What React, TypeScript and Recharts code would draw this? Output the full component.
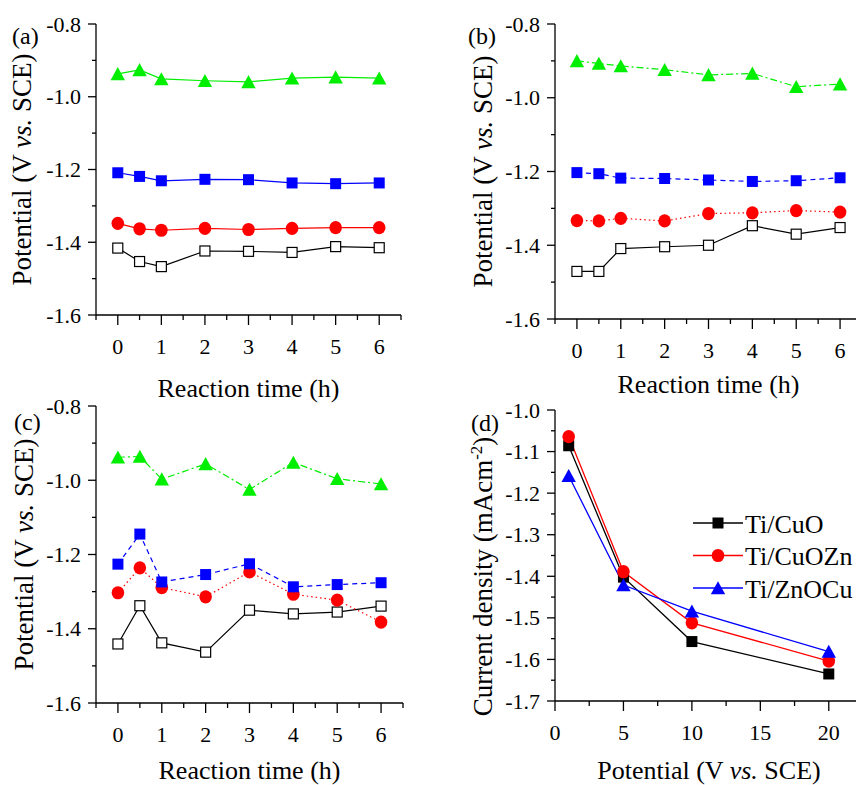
import React from 'react';
import { LineChart, Line, XAxis, YAxis, Label, Legend } from 'recharts';

const FONT = '"Liberation Serif", "Times New Roman", Times, serif';

// ---------- shared axes (panels a-c) ----------
const timeH = [0, 0.5, 1, 2, 3, 4, 5, 6];
const timeMajorTicks = [0, 1, 2, 3, 4, 5, 6];
const timeMinorTicks = [-0.5, 0.5, 1.5, 2.5, 3.5, 4.5, 5.5, 6.5];
const potMajorTicks = [-1.6, -1.4, -1.2, -1.0, -0.8];
const potMinorTicks = [-1.5, -1.3, -1.1, -0.9];

// ---------- panel (a) ----------
const aOpenSquare = [-1.416, -1.453, -1.467, -1.424, -1.425, -1.428, -1.412, -1.415];
const aRedCircle = [-1.348, -1.363, -1.367, -1.362, -1.365, -1.362, -1.36, -1.36];
const aBlueSquare = [-1.209, -1.219, -1.231, -1.227, -1.228, -1.237, -1.239, -1.237];
const aGreenTriangle = [-0.937, -0.926, -0.951, -0.956, -0.959, -0.949, -0.946, -0.949];

// ---------- panel (b) ----------
const bOpenSquare = [-1.471, -1.471, -1.409, -1.404, -1.4, -1.347, -1.37, -1.352];
const bRedCircle = [-1.333, -1.334, -1.327, -1.334, -1.314, -1.312, -1.306, -1.31];
const bBlueSquare = [-1.203, -1.206, -1.218, -1.219, -1.223, -1.227, -1.225, -1.217];
const bGreenTriangle = [-0.9, -0.907, -0.914, -0.924, -0.938, -0.934, -0.97, -0.963];

// ---------- panel (c) ----------
const cOpenSquare = [-1.441, -1.338, -1.438, -1.463, -1.35, -1.36, -1.355, -1.339];
const cRedCircle = [-1.303, -1.236, -1.289, -1.314, -1.247, -1.307, -1.323, -1.382];
const cBlueSquare = [-1.226, -1.145, -1.274, -1.254, -1.225, -1.287, -1.281, -1.276];
const cGreenTriangle = [-0.938, -0.936, -0.997, -0.956, -1.025, -0.952, -0.996, -1.01];

// ---------- panel (d) ----------
const dPotential = [1, 5, 10, 20];
const dTiCuO = [-1.086, -1.402, -1.557, -1.635];
const dTiCuOZn = [-1.064, -1.389, -1.512, -1.604];
const dTiZnOCu = [-1.158, -1.421, -1.484, -1.581];
const dXMajorTicks = [0, 5, 10, 15, 20];
const dXMinorTicks = [2.5, 7.5, 12.5, 17.5, 22.5];
const dYMajorTicks = [-1.7, -1.6, -1.5, -1.4, -1.3, -1.2, -1.1, -1.0];
const dYMinorTicks = [-1.65, -1.55, -1.45, -1.35, -1.25, -1.15, -1.05];

const GREEN = '#00ee00';
const BLUE = '#0000ff';
const RED = '#ff0000';
const BLACK = '#000000';

type MarkerKind = 'openSquare' | 'square' | 'circle' | 'triangle';

function drawMarker(kind: MarkerKind, color: string, cx: number, cy: number, key?: string) {
  if (kind === 'openSquare') {
    return <rect key={key} x={cx - 5} y={cy - 5} width={10} height={10} fill="#fff" stroke={color} strokeWidth={1.2} />;
  }
  if (kind === 'square') {
    return <rect key={key} x={cx - 5.5} y={cy - 5.5} width={11} height={11} fill={color} stroke="none" />;
  }
  if (kind === 'circle') {
    return <ellipse key={key} cx={cx} cy={cy} rx={6.3} ry={6.6} fill={color} stroke="none" />;
  }
  return (
    <polygon
      key={key}
      points={`${cx},${cy - 6.8} ${cx - 7.2},${cy + 6.3} ${cx + 7.2},${cy + 6.3}`}
      fill={color}
      stroke="none"
    />
  );
}

const dotRenderer = (kind: MarkerKind, color: string, name: string) => (p: any) => {
  if (p == null || p.cx == null || p.cy == null) return <g key={`${name}-${p?.index}`} />;
  return drawMarker(kind, color, p.cx, p.cy, `${name}-${p.index}`);
};

const isIn = (v: number, arr: number[]) => arr.some((a) => Math.abs(a - v) < 1e-6);

const makeYTick = (majors: number[], decimals: number) => (props: any) => {
  const { x, y, payload } = props;
  const v = payload.value as number;
  const major = isIn(v, majors);
  const len = major ? 8 : 4;
  return (
    <g>
      <line x1={x - len} x2={x} y1={y} y2={y} stroke="#000" strokeWidth={1.3} />
      {major && (
        <text x={x - 15} y={y} dy={7.5} textAnchor="end" fontFamily={FONT} fontSize={22} fill="#000">
          {v.toFixed(decimals)}
        </text>
      )}
    </g>
  );
};

const makeXTick = (majors: number[]) => (props: any) => {
  const { x, y, payload } = props;
  const v = payload.value as number;
  const major = isIn(v, majors);
  const len = major ? 10 : 5;
  return (
    <g>
      <line x1={x} x2={x} y1={y} y2={y + len} stroke="#000" strokeWidth={1.3} />
      {major && (
        <text x={x} y={y + 39} textAnchor="middle" fontFamily={FONT} fontSize={22} fill="#000">
          {String(v)}
        </text>
      )}
    </g>
  );
};

const potentialTitle = (
  <>
    <tspan>{'Potential (V '}</tspan>
    <tspan fontStyle="italic">{'vs.'}</tspan>
    <tspan>{' SCE)'}</tspan>
  </>
);

const currentTitle = (
  <>
    <tspan>{'Current density (mAcm'}</tspan>
    <tspan fontSize={17} dy={-10}>{'-2'}</tspan>
    <tspan dy={10}>{')'}</tspan>
  </>
);

const yTitle = (baselineX: number, shift: number, content: React.ReactNode, fallbackCy: number) => (props: any) => {
  const vb = props && props.viewBox;
  const cy = (vb && vb.height ? vb.y + vb.height / 2 : fallbackCy) + shift;
  return (
    <text
      x={baselineX}
      y={cy}
      transform={`rotate(-90 ${baselineX} ${cy})`}
      textAnchor="middle"
      fontFamily={FONT}
      fontSize={27}
      fill="#000"
    >
      {content}
    </text>
  );
};

const xTitle = (offset: number, content: React.ReactNode, fallbackCx: number, fallbackY: number) => (props: any) => {
  const vb = props && props.viewBox;
  const cx = vb && vb.width ? vb.x + vb.width / 2 : fallbackCx;
  const y = (vb && vb.width ? vb.y : fallbackY) + offset;
  return (
    <text x={cx} y={y} textAnchor="middle" fontFamily={FONT} fontSize={26} fill="#000">
      {content}
    </text>
  );
};

const timeSeriesDefs = [
  { key: 'openSquare', kind: 'openSquare' as MarkerKind, color: BLACK, dash: undefined as string | undefined },
  { key: 'redCircle', kind: 'circle' as MarkerKind, color: RED, dash: '1.5 3' },
  { key: 'blueSquare', kind: 'square' as MarkerKind, color: BLUE, dash: '5 4' },
  { key: 'greenTriangle', kind: 'triangle' as MarkerKind, color: GREEN, dash: '7 3 2 3' },
];

type TimePanelProps = {
  series: number[][];
  solid: boolean;
  width: number;
  height: number;
  margin: { top: number; right: number; left: number; bottom: number };
  yAxisWidth: number;
  xAxisHeight: number;
  yTitleX: number;
  xTitleOffset: number;
  id: string;
};

function TimePanel(p: TimePanelProps) {
  const data = timeH.map((t, i) => ({
    t,
    openSquare: p.series[0][i],
    redCircle: p.series[1][i],
    blueSquare: p.series[2][i],
    greenTriangle: p.series[3][i],
  }));
  const xTicks = [...timeMajorTicks, ...timeMinorTicks].sort((a, b) => a - b);
  const yTicks = [...potMajorTicks, ...potMinorTicks].sort((a, b) => a - b);
  return (
    <LineChart width={p.width} height={p.height} data={data} margin={p.margin}>
      <XAxis
        dataKey="t"
        type="number"
        domain={[-0.5, 6.5]}
        ticks={xTicks}
        interval={0}
        tickSize={0}
        tickMargin={0}
        tickLine={false}
        tick={makeXTick(timeMajorTicks)}
        axisLine={{ stroke: '#000', strokeWidth: 1.3 }}
        height={p.xAxisHeight}
        allowDataOverflow
      >
        <Label content={xTitle(p.xTitleOffset, 'Reaction time (h)', 250, 315)} />
      </XAxis>
      <YAxis
        type="number"
        domain={[-1.6, -0.8]}
        ticks={yTicks}
        interval={0}
        tickSize={0}
        tickMargin={0}
        tickLine={false}
        tick={makeYTick(potMajorTicks, 1)}
        axisLine={{ stroke: '#000', strokeWidth: 1.3 }}
        width={p.yAxisWidth}
        allowDataOverflow
      >
        <Label content={yTitle(p.yTitleX, 0, potentialTitle, 170)} />
      </YAxis>
      {timeSeriesDefs.map((s) => (
        <Line
          key={s.key}
          dataKey={s.key}
          name={s.key}
          stroke={s.color}
          strokeWidth={1.2}
          strokeDasharray={p.solid ? undefined : s.dash}
          dot={dotRenderer(s.kind, s.color, `${p.id}-${s.key}`)}
          activeDot={false}
          isAnimationActive={false}
          type="linear"
        />
      ))}
    </LineChart>
  );
}

const dSeriesDefs = [
  { key: 'TiCuO', name: 'Ti/CuO', kind: 'square' as MarkerKind, color: BLACK },
  { key: 'TiCuOZn', name: 'Ti/CuOZn', kind: 'circle' as MarkerKind, color: RED },
  { key: 'TiZnOCu', name: 'Ti/ZnOCu', kind: 'triangle' as MarkerKind, color: BLUE },
];

const renderDLegend = (props: any) => {
  const payload: any[] = (props && props.payload) || [];
  const rowGap = 32.5;
  return (
    <svg width={170} height={100} style={{ display: 'block', overflow: 'visible' }}>
      {payload.map((entry: any, i: number) => {
        const def = dSeriesDefs.find((d) => d.key === entry.dataKey) || dSeriesDefs[i];
        const cy = 16 + i * rowGap;
        return (
          <g key={def.key}>
            <line x1={0} x2={50} y1={cy} y2={cy} stroke={def.color} strokeWidth={1.3} />
            {drawMarker(def.kind, def.color, 25, cy)}
            <text x={52} y={cy + 9.5} fontFamily={FONT} fontSize={26} fill="#000">
              {entry.value}
            </text>
          </g>
        );
      })}
    </svg>
  );
};

function CurrentPanel() {
  const data = dPotential.map((v, i) => ({ v, TiCuO: dTiCuO[i], TiCuOZn: dTiCuOZn[i], TiZnOCu: dTiZnOCu[i] }));
  const xTicks = [...dXMajorTicks, ...dXMinorTicks].sort((a, b) => a - b);
  const yTicks = [...dYMajorTicks, ...dYMinorTicks].sort((a, b) => a - b);
  return (
    <LineChart width={440} height={395} data={data} margin={{ top: 20, right: 7, left: 0, bottom: 0 }}>
      <XAxis
        dataKey="v"
        type="number"
        domain={[0, 22.5]}
        ticks={xTicks}
        interval={0}
        tickSize={0}
        tickMargin={0}
        tickLine={false}
        tick={makeXTick(dXMajorTicks)}
        axisLine={{ stroke: '#000', strokeWidth: 1.3 }}
        height={84}
        allowDataOverflow
      >
        <Label content={xTitle(78, potentialTitle, 276, 311)} />
      </XAxis>
      <YAxis
        type="number"
        domain={[-1.7, -1.0]}
        ticks={yTicks}
        interval={0}
        tickSize={0}
        tickMargin={0}
        tickLine={false}
        tick={makeYTick(dYMajorTicks, 1)}
        axisLine={{ stroke: '#000', strokeWidth: 1.3 }}
        width={125}
        allowDataOverflow
      >
        <Label content={yTitle(62, 21, currentTitle, 165)} />
      </YAxis>
      <Legend
        layout="horizontal"
        verticalAlign="middle"
        align="center"
        content={renderDLegend}
        wrapperStyle={{ left: 263, top: 117, width: 170, height: 100 }}
      />
      {dSeriesDefs.map((s) => (
        <Line
          key={s.key}
          dataKey={s.key}
          name={s.name}
          stroke={s.color}
          strokeWidth={1.3}
          dot={dotRenderer(s.kind, s.color, `d-${s.key}`)}
          activeDot={false}
          isAnimationActive={false}
          type="linear"
        />
      ))}
    </LineChart>
  );
}

const panelLetters = [
  { text: '(a)', x: 12, y: 44 },
  { text: '(b)', x: 468, y: 44 },
  { text: '(c)', x: 14, y: 430 },
  { text: '(d)', x: 471, y: 431 },
];

export default function App() {
  return (
    <div
      style={{
        position: 'absolute',
        left: 0,
        top: 0,
        width: 856,
        height: 785,
        overflow: 'hidden',
        background: '#fff',
      }}
    >
      <div style={{ position: 'absolute', left: 0, top: 0 }}>
        <TimePanel
          id="a"
          series={[aOpenSquare, aRedCircle, aBlueSquare, aGreenTriangle]}
          solid
          width={420}
          height={410}
          margin={{ top: 24, right: 19, left: 0, bottom: 0 }}
          yAxisWidth={96}
          xAxisHeight={95}
          yTitleX={31}
          xTitleOffset={82}
        />
      </div>
      <div style={{ position: 'absolute', left: 430, top: 0 }}>
        <TimePanel
          id="b"
          series={[bOpenSquare, bRedCircle, bBlueSquare, bGreenTriangle]}
          solid={false}
          width={440}
          height={410}
          margin={{ top: 24, right: 8, left: 0, bottom: 0 }}
          yAxisWidth={125}
          xAxisHeight={91}
          yTitleX={62}
          xTitleOffset={74}
        />
      </div>
      <div style={{ position: 'absolute', left: 0, top: 390 }}>
        <TimePanel
          id="c"
          series={[cOpenSquare, cRedCircle, cBlueSquare, cGreenTriangle]}
          solid={false}
          width={420}
          height={395}
          margin={{ top: 16, right: 17, left: 0, bottom: 0 }}
          yAxisWidth={96}
          xAxisHeight={82}
          yTitleX={33}
          xTitleOffset={76}
        />
      </div>
      <div style={{ position: 'absolute', left: 430, top: 390 }}>
        <CurrentPanel />
      </div>
      <svg
        width={856}
        height={785}
        style={{ position: 'absolute', left: 0, top: 0, pointerEvents: 'none' }}
      >
        {panelLetters.map((l) => (
          <text key={l.text} x={l.x} y={l.y} fontFamily={FONT} fontSize={24} fill="#000">
            {l.text}
          </text>
        ))}
      </svg>
    </div>
  );
}
